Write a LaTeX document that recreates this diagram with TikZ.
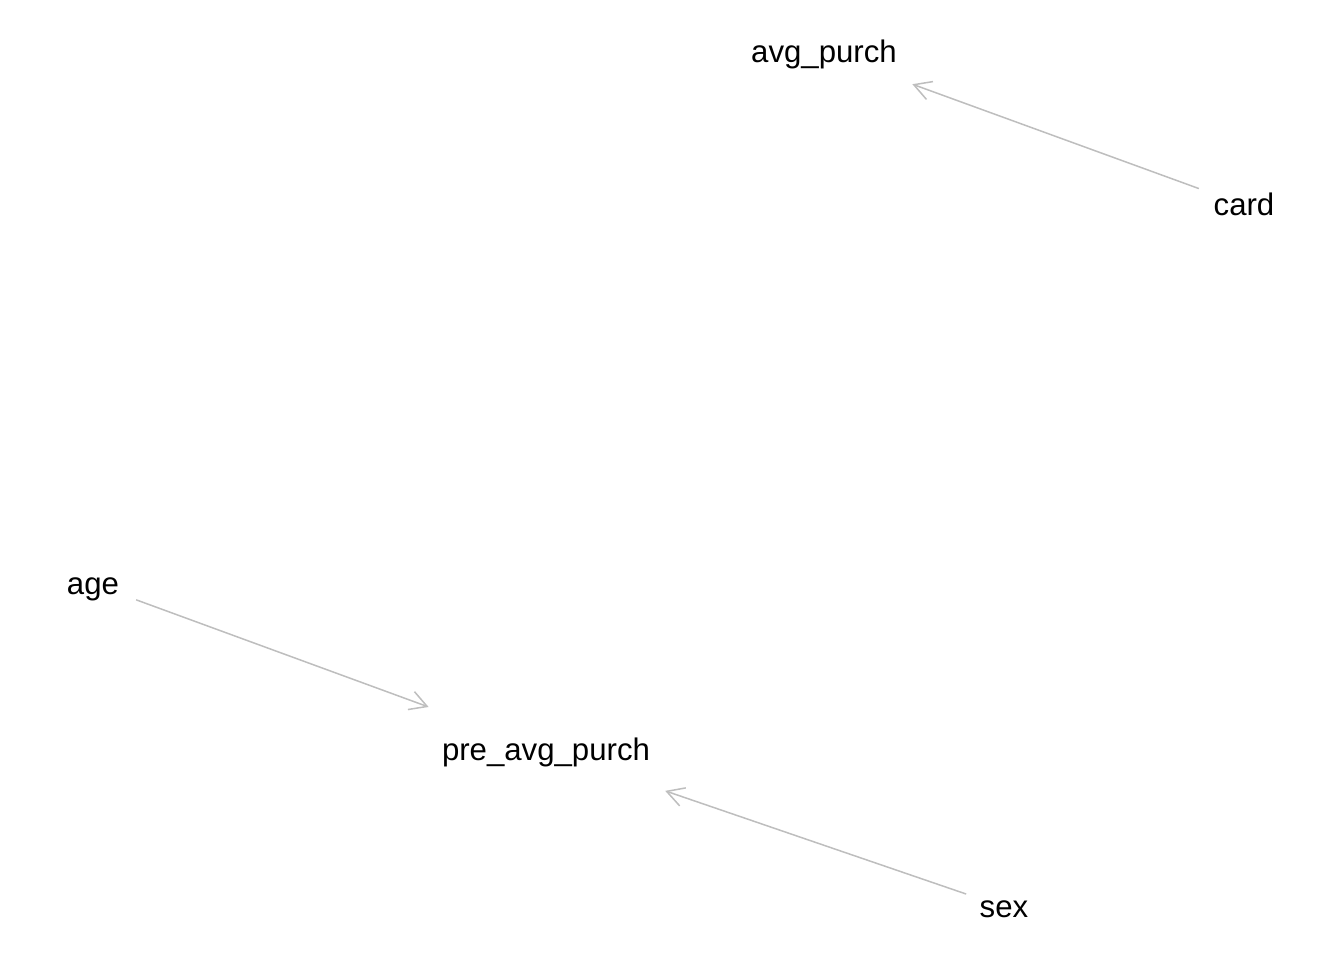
\documentclass[tikz,border=0pt]{standalone}
\usepackage{fontspec}
\setmainfont{Liberation Sans}
\usetikzlibrary{arrows.meta}
\definecolor{edgegray}{HTML}{BEBEBE}

\begin{document}
\begin{tikzpicture}[
  var/.style={inner sep=0pt,text height=0.22cm,text depth=0.02cm,font=\fontsize{8.87}{10}\selectfont},
  edge/.style={draw=edgegray,line width=0.43pt,-{Straight Barb[length=0.17cm,width=0.19cm]}}]
  \useasboundingbox (0,0) rectangle (13.44,9.6);
  \node[var] (avg) at (8.24,9.08) {avg\_purch};
  \node[var] (card) at (12.44,7.55) {card};
  \node[var] (age) at (0.93,3.76) {age};
  \node[var] (pre) at (5.46,2.10) {pre\_avg\_purch};
  \node[var] (sex) at (10.04,0.53) {sex};
  \draw[edge,shorten <=0.48cm,shorten >=0.94cm] (card.center) -- (avg.center);
  \draw[edge,shorten <=0.46cm,shorten >=1.25cm] (age.center) -- (pre.center);
  \draw[edge,shorten <=0.40cm,shorten >=1.26cm] (sex.center) -- (pre.center);
\end{tikzpicture}
\end{document}
